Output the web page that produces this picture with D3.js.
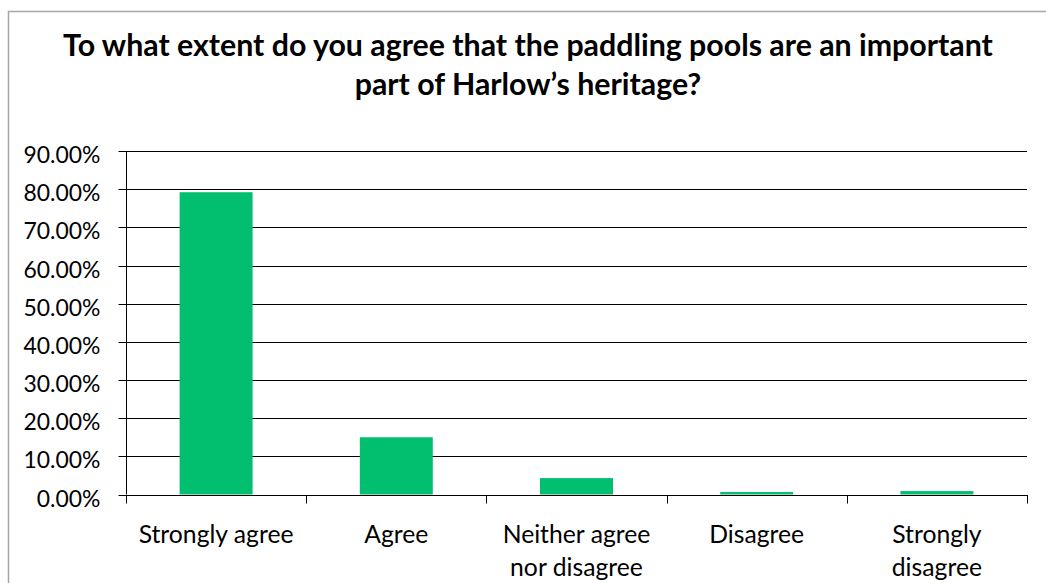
<!DOCTYPE html>
<html>
<head>
<meta charset="utf-8">
<script src="https://cdn.jsdelivr.net/npm/d3@7"></script>
<style>
  html, body { margin: 0; padding: 0; background: #fff; }
  svg { display: block; }
  text { font-family: "Lato", "Open Sans", sans-serif; fill: #000; }
</style>
</head>
<body>
<svg id="chart" width="1046" height="583"></svg>
<script>
const titleLines = ["To what extent do you agree that the paddling pools are an important", "part of Harlow\u2019s heritage?"];
const categories = ["Strongly agree", "Agree", "Neither agree nor disagree", "Disagree", "Strongly disagree"];
const categoryLines = [["Strongly agree"], ["Agree"], ["Neither agree", "nor disagree"], ["Disagree"], ["Strongly", "disagree"]];
const values = [79.2, 15.0, 4.3, 0.65, 0.9];
const yTicks = [0, 10, 20, 30, 40, 50, 60, 70, 80, 90];

(function () {
const svg = d3.select("#chart");

function fitSize(str, weight, target) {
  const t = svg.append("text").attr("font-size", 100).attr("font-weight", weight).text(str);
  const w = t.node().getComputedTextLength();
  t.remove();
  return 100 * target / w;
}
const titleSize = fitSize(titleLines[0], "bold", 930);
const yTickSize = fitSize("10.00%", "normal", 77);
const xLabSize = fitSize("Strongly agree", "normal", 155);

// frame
svg.append("path")
  .attr("d", "M8.5,600 V11.5 H1060")
  .attr("fill", "none").attr("stroke", "#a6a6a6").attr("stroke-width", 1.5);

// title
const titleY = [56, 95];
svg.append("g").selectAll("text").data(titleLines).join("text")
  .attr("x", 528).attr("y", (d, i) => titleY[i])
  .attr("text-anchor", "middle").attr("font-weight", "bold")
  .attr("font-size", titleSize).text(d => d);

const pLeft = 126, pRight = 1027, pTop = 151, pBottom = 494.5;
const x = d3.scaleBand().domain(categories).range([pLeft, pRight]).padding(0);
const y = d3.scaleLinear().domain([0, 90]).range([pBottom, pTop]);

// gridlines
svg.append("g").selectAll("line").data(yTicks).join("line")
  .attr("x1", pLeft).attr("x2", pRight)
  .attr("y1", d => Math.round(y(d)) + 0.5).attr("y2", d => Math.round(y(d)) + 0.5)
  .attr("stroke", "#000").attr("stroke-width", 1);

// bars
const barW = x.bandwidth() * 0.405;
svg.append("g").selectAll("rect").data(values).join("rect")
  .attr("x", (d, i) => x(categories[i]) + (x.bandwidth() - barW) / 2)
  .attr("width", barW)
  .attr("y", d => y(d))
  .attr("height", d => pBottom - y(d))
  .attr("fill", "#02bf6f");

// y axis
const yAxis = d3.axisLeft(y).tickValues(yTicks).tickSize(8).tickFormat(d => d.toFixed(2) + "%");
const gy = svg.append("g").attr("transform", `translate(${pLeft + 0.5},0)`).call(yAxis);
gy.attr("font-family", null).attr("font-size", null);
gy.select(".domain").attr("stroke", "#000").attr("d", `M0,${pTop}V${pBottom}`);
gy.selectAll(".tick").attr("transform", d => `translate(0,${Math.round(y(d)) + 0.5})`);
gy.selectAll(".tick line").attr("stroke", "#000");
gy.selectAll(".tick text")
  .attr("x", -26).attr("dy", null).attr("y", 11)
  .attr("font-size", yTickSize).attr("fill", "#000");

// x axis
const gx = svg.append("g").attr("transform", `translate(0,${Math.round(pBottom) + 0.5})`);
gx.append("line").attr("x1", pLeft).attr("x2", pRight + 1).attr("y1", 0).attr("y2", 0).attr("stroke", "#000");
const bounds = categories.map(c => x(c)).concat([pRight]);
gx.selectAll("line.tk").data(bounds).join("line").attr("class", "tk")
  .attr("x1", d => Math.round(d) + 0.5).attr("x2", d => Math.round(d) + 0.5)
  .attr("y1", 0).attr("y2", 8).attr("stroke", "#000");

// category labels
const labY = [543, 576];
const lg = svg.append("g");
categories.forEach((c, i) => {
  const cx = x(c) + x.bandwidth() / 2;
  categoryLines[i].forEach((ln, j) => {
    lg.append("text").attr("x", cx).attr("y", labY[j])
      .attr("text-anchor", "middle").attr("font-size", xLabSize).text(ln);
  });
});
})();
</script>
</body>
</html>
